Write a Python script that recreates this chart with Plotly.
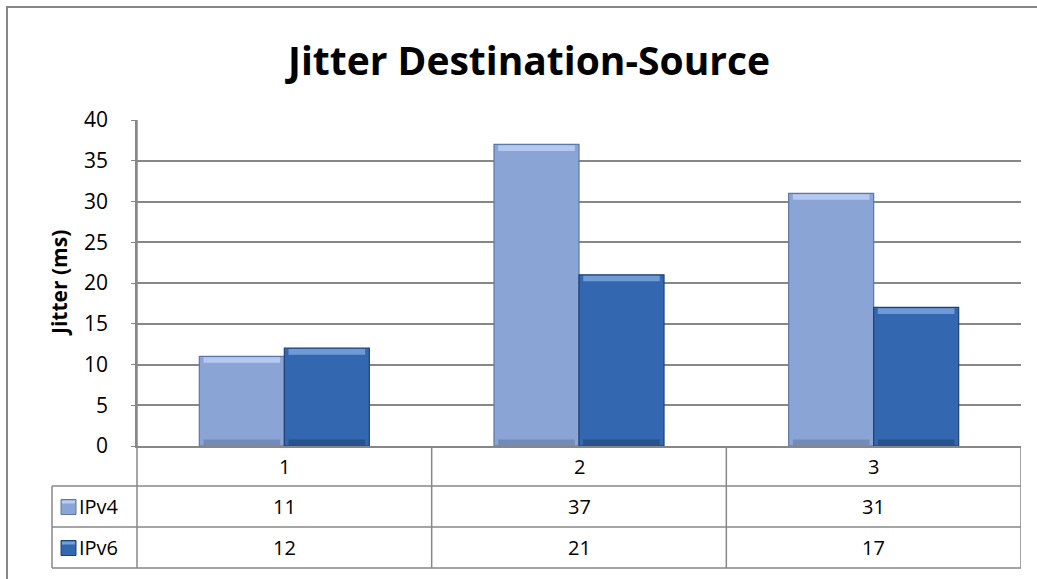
import plotly.graph_objects as go

# Chart data
categories = ["1", "2", "3"]
series_names = ["IPv4", "IPv6"]
ipv4 = [11, 37, 31]
ipv6 = [12, 21, 17]
y_ticks = [0, 5, 10, 15, 20, 25, 30, 35, 40]

W, H = 1037, 579
L, R, T, B = 137, 1021, 120, 446          # plot area in pixels
PW, PH = R - L, B - T


def px(x):
    return (x - L) / PW


def py(y):
    return (B - y) / PH


GRID = "#878787"
FONT = "Open Sans"

styles = {
    "IPv4": dict(body="#8AA4D6", top="#B8CDF0", bottom="#6A80AD", edge="#5F77A5"),
    "IPv6": dict(body="#3368B0", top="#75A0DA", bottom="#22497F", edge="#1D4276"),
}
values = {"IPv4": ipv4, "IPv6": ipv6}
xs = list(range(len(categories)))

fig = go.Figure()
bevel = 0.7  # depth of the bevel strips, in data units
for name in series_names:
    st = styles[name]
    vals = values[name]
    fig.add_trace(go.Bar(
        x=xs, y=vals, name=name, offsetgroup=name,
        marker=dict(color=st["body"], line=dict(color=st["edge"], width=1.2)),
        showlegend=False,
    ))
    # light top bevel
    fig.add_trace(go.Bar(
        x=xs, y=[bevel] * len(vals), base=[v - bevel - 0.1 for v in vals],
        offsetgroup=name, marker=dict(color=st["top"], line=dict(width=0)),
        width=0.26, opacity=0.9, showlegend=False, hoverinfo="skip",
    ))
    # dark bottom bevel
    fig.add_trace(go.Bar(
        x=xs, y=[bevel] * len(vals), base=[0.1] * len(vals),
        offsetgroup=name, marker=dict(color=st["bottom"], line=dict(width=0)),
        width=0.26, opacity=0.7, showlegend=False, hoverinfo="skip",
    ))

shapes = []
# outer chart border
shapes.append(dict(type="rect", xref="paper", yref="paper",
                   x0=px(7), x1=px(1080), y0=py(7), y1=py(600),
                   line=dict(color=GRID, width=2), layer="below"))

# data table grid
row_y = [446, 486, 527, 568]
line_style = dict(color=GRID, width=1.5)
for yy in row_y[1:]:
    shapes.append(dict(type="line", xref="paper", yref="paper",
                       x0=px(52), x1=px(R), y0=py(yy), y1=py(yy), line=line_style))
shapes.append(dict(type="line", xref="paper", yref="paper",
                   x0=px(52), x1=px(52), y0=py(486), y1=py(568), line=line_style))
shapes.append(dict(type="line", xref="paper", yref="paper",
                   x0=0, x1=0, y0=py(T), y1=py(568), line=line_style))
for xb in [0.5, 1.5, 2.5]:
    shapes.append(dict(type="line", xref="x", yref="paper",
                       x0=xb, x1=xb, y0=py(446), y1=py(568), line=line_style))

annotations = []
cell_font = dict(family=FONT, size=20, color="black")
cat_row_c = (row_y[0] + row_y[1]) / 2
for i, c in enumerate(categories):
    annotations.append(dict(x=i, y=py(cat_row_c), xref="x", yref="paper",
                            text=c, showarrow=False, xanchor="center",
                            yanchor="middle", font=cell_font))
for r, name in enumerate(series_names):
    yc = (row_y[r + 1] + row_y[r + 2]) / 2
    for i, v in enumerate(values[name]):
        annotations.append(dict(x=i, y=py(yc), xref="x", yref="paper",
                                text=str(v), showarrow=False, xanchor="center",
                                yanchor="middle", font=cell_font))
    annotations.append(dict(x=px(77), y=py(yc), xref="paper", yref="paper",
                            text=name, showarrow=False, xanchor="left",
                            yanchor="middle", font=cell_font))
    st = styles[name]
    shapes.append(dict(type="rect", xref="paper", yref="paper",
                       x0=px(61), x1=px(76), y0=py(yc + 8), y1=py(yc - 7),
                       fillcolor=st["body"], line=dict(color=st["edge"], width=1)))
    shapes.append(dict(type="rect", xref="paper", yref="paper",
                       x0=px(62), x1=px(75), y0=py(yc - 3), y1=py(yc - 6),
                       fillcolor=st["top"], line=dict(width=0)))

# chart title
annotations.append(dict(x=px(527), y=py(60), xref="paper", yref="paper",
                        text="<b>Jitter Destination-Source</b>", showarrow=False,
                        xanchor="center", yanchor="middle",
                        font=dict(family=FONT, size=39, color="black")))
# y axis title
annotations.append(dict(x=px(59), y=py(283), xref="paper", yref="paper",
                        text="<b>Jitter (ms)</b>", showarrow=False, textangle=-90,
                        xanchor="center", yanchor="middle",
                        font=dict(family=FONT, size=21, color="black")))

fig.update_layout(
    width=W, height=H,
    margin=dict(l=L, r=W - R, t=T, b=H - B, pad=0),
    paper_bgcolor="white", plot_bgcolor="white",
    barmode="group", bargap=0.423, bargroupgap=0,
    shapes=shapes, annotations=annotations,
    xaxis=dict(range=[-0.5, 2.5], showticklabels=False, showgrid=False,
               zeroline=False, showline=True, linecolor=GRID, linewidth=1.5,
               ticks=""),
    yaxis=dict(range=[0, 40], tickvals=y_ticks, showgrid=True,
               gridcolor=GRID, gridwidth=1.5, zeroline=False,
               showline=True, linecolor=GRID, linewidth=1.5,
               ticks="outside", ticklen=4, tickcolor=GRID,
               tickfont=dict(family=FONT, size=21, color="black"),
               ticklabelstandoff=19),
    showlegend=False,
)

fig.write_html("out.html")
